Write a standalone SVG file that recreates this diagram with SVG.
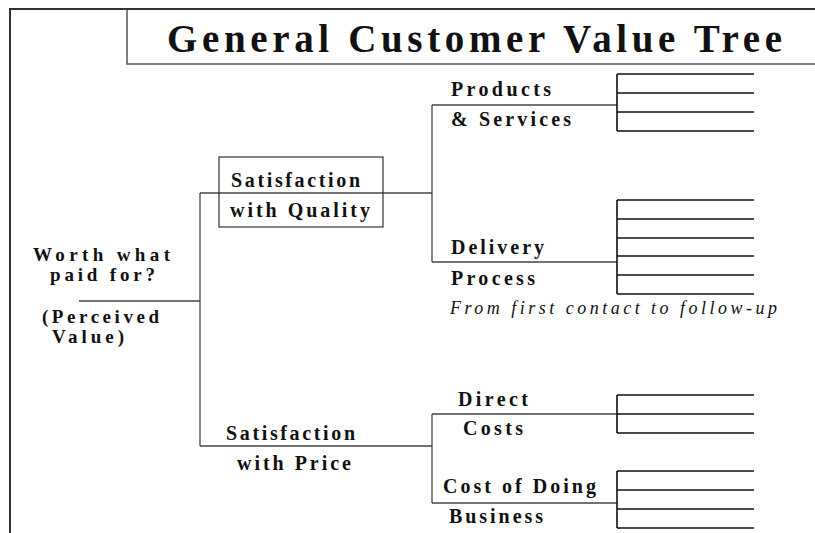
<svg xmlns="http://www.w3.org/2000/svg" width="815" height="533" viewBox="0 0 815 533">
  <style>
    .frame { stroke: #333; stroke-width: 2; fill: none; }
    .title-box { stroke: #555; stroke-width: 1.5; fill: none; }
    .conn { stroke: #444; stroke-width: 1.3; fill: none; }
    .leaf { stroke: #111; stroke-width: 1.6; fill: none; }
    .box { stroke: #333; stroke-width: 1.2; fill: none; }
    text { font-family: "Liberation Serif", "Times New Roman", serif; fill: #111; }
    .lbl { font-size: 20px; font-weight: bold; }
    .root { font-size: 19px; font-weight: bold; }
    .title { font-size: 39px; font-weight: bold; }
    .note { font-size: 18px; font-style: italic; }
  </style>

  <!-- page frame and title -->
  <g id="frame">
    <path class="frame" d="M10,533 V9 H815"/>
  </g>
  <g id="title">
    <path class="title-box" d="M127,10 V64 H815"/>
    <text class="title" x="167" y="52" textLength="615" lengthAdjust="spacing">General Customer Value Tree</text>
  </g>

  <!-- connectors between the tree levels -->
  <g id="connectors">
    <path class="conn" d="M79,301 H200"/>
    <path class="conn" d="M200,193 V446"/>
    <path class="conn" d="M200,193 H432"/>
    <path class="conn" d="M200,446 H432"/>
    <path class="conn" d="M432,105 V262"/>
    <path class="conn" d="M432,105 H617"/>
    <path class="conn" d="M432,262 H617"/>
    <path class="conn" d="M432,414 V503"/>
    <path class="conn" d="M432,414 H617"/>
    <path class="conn" d="M432,503 H617"/>
  </g>

  <!-- root -->
  <g id="root">
    <text class="root" x="33" y="261" textLength="137" lengthAdjust="spacing">Worth what</text>
    <text class="root" x="50" y="281" textLength="105" lengthAdjust="spacing">paid for?</text>
    <text class="root" x="42" y="323" textLength="117" lengthAdjust="spacing">(Perceived</text>
    <text class="root" x="52" y="343" textLength="72" lengthAdjust="spacing">Value)</text>
  </g>

  <!-- second level -->
  <g id="quality">
    <rect class="box" x="219" y="157" width="164" height="70"/>
    <text class="lbl" x="231" y="187" textLength="129" lengthAdjust="spacing">Satisfaction</text>
    <text class="lbl" x="230" y="217" textLength="140" lengthAdjust="spacing">with Quality</text>
  </g>
  <g id="price">
    <text class="lbl" x="226" y="440" textLength="129" lengthAdjust="spacing">Satisfaction</text>
    <text class="lbl" x="237" y="470" textLength="114" lengthAdjust="spacing">with Price</text>
  </g>

  <!-- third level -->
  <g id="products">
    <text class="lbl" x="451" y="96" textLength="100" lengthAdjust="spacing">Products</text>
    <text class="lbl" x="451" y="126" textLength="120" lengthAdjust="spacing">&amp; Services</text>
    <path class="leaf" d="M617,74 V131 M617,74 H754 M617,93 H754 M617,112 H754 M617,131 H754"/>
  </g>
  <g id="delivery">
    <text class="lbl" x="451" y="254" textLength="93" lengthAdjust="spacing">Delivery</text>
    <text class="lbl" x="451" y="285" textLength="84" lengthAdjust="spacing">Process</text>
    <text class="note" x="450" y="314" textLength="327" lengthAdjust="spacing">From first contact to follow-up</text>
    <path class="leaf" d="M617,200 V294 M617,200 H754 M617,219 H754 M617,238 H754 M617,256 H754 M617,275 H754 M617,294 H754"/>
  </g>
  <g id="direct-costs">
    <text class="lbl" x="458" y="406" textLength="70" lengthAdjust="spacing">Direct</text>
    <text class="lbl" x="463" y="435" textLength="60" lengthAdjust="spacing">Costs</text>
    <path class="leaf" d="M617,395 V433 M617,395 H754 M617,414 H754 M617,433 H754"/>
  </g>
  <g id="cost-of-doing-business">
    <text class="lbl" x="443" y="493" textLength="153" lengthAdjust="spacing">Cost of Doing</text>
    <text class="lbl" x="449" y="523" textLength="94" lengthAdjust="spacing">Business</text>
    <path class="leaf" d="M617,471 V528 M617,471 H754 M617,490 H754 M617,509 H754 M617,528 H754"/>
  </g>
</svg>
